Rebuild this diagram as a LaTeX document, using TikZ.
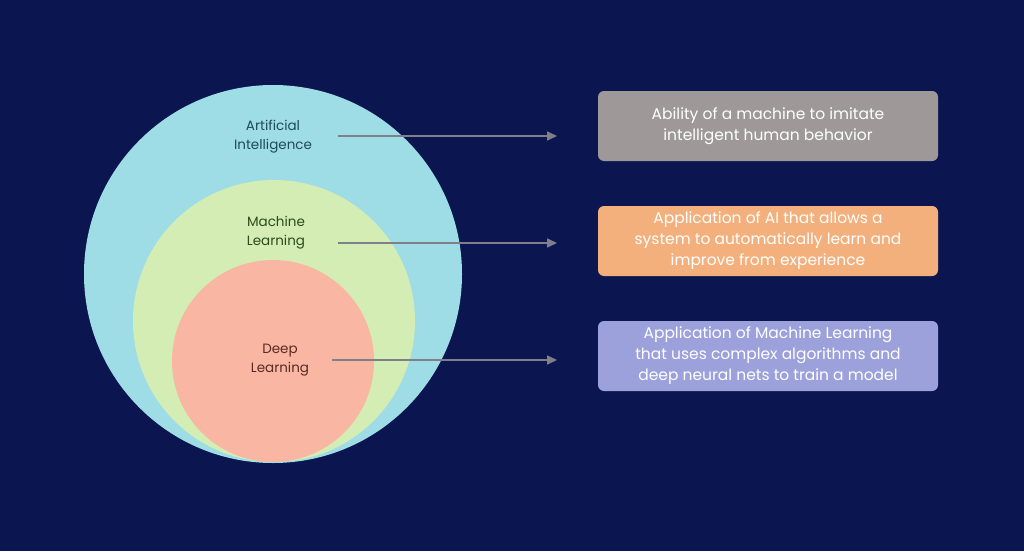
\documentclass[tikz,border=0pt]{standalone}
\usepackage{fontspec}
\setmainfont{Poppins}
\usetikzlibrary{arrows.meta}
\definecolor{navy}{HTML}{0B1650}
\definecolor{aiblue}{HTML}{9EDDE6}
\definecolor{mlgreen}{HTML}{D3EDB4}
\definecolor{dlred}{HTML}{F9B7A3}
\definecolor{boxgray}{HTML}{9E9898}
\definecolor{boxorange}{HTML}{F3B07D}
\definecolor{boxviolet}{HTML}{9CA1DB}
\definecolor{aitext}{HTML}{1E4A5A}
\definecolor{mltext}{HTML}{2E4A1E}
\definecolor{dltext}{HTML}{5A2A22}
\definecolor{linkgray}{HTML}{80808A}
\begin{document}
\begin{tikzpicture}[x=1pt,y=-1pt,
                    line width=1.5pt]
    \tikzstyle{ring}=[circle,inner sep=0pt]
    \tikzstyle{tag}=[align=center,font=\fontsize{13.5}{19}\selectfont]
    \tikzstyle{desc}=[rounded corners=6pt,minimum width=340pt,minimum height=70pt,
                      align=center,text=white,font=\fontsize{15.5}{21}\selectfont]
    \tikzstyle{link}=[draw=linkgray,-{Triangle[length=10pt,width=9pt]}]

    \fill[navy] (0,0) rectangle (1024,551);

    \node[ring,fill=aiblue,minimum size=378pt] (ai) at (273,274) {};
    \node[ring,fill=mlgreen,minimum size=282pt] (ml) at (274,321) {};
    \node[ring,fill=dlred,minimum size=202pt] (dl) at (273,361) {};

    \node[tag,text=aitext] (aitag) at (273,137) {Artificial\\Intelligence};
    \node[tag,text=mltext] (mltag) at (276,233) {Machine\\Learning};
    \node[tag,text=dltext] (dltag) at (280,360) {Deep\\Learning};

    \node[desc,fill=boxgray] (aibox) at (768,126) {Ability of a machine to imitate\\intelligent human behavior};
    \node[desc,fill=boxorange] (mlbox) at (768,241) {Application of AI that allows a\\system to automatically learn and\\improve from experience};
    \node[desc,fill=boxviolet] (dlbox) at (768,356) {Application of Machine Learning\\that uses complex algorithms and\\deep neural nets to train a model};

    \coordinate (aistart) at (338,136);
    \coordinate (mlstart) at (338,243);
    \coordinate (dlstart) at (332,360);
    \coordinate (aiend) at (557,136);
    \coordinate (mlend) at (557,243);
    \coordinate (dlend) at (557,360);
    \draw[link] (aistart) -- (aiend);
    \draw[link] (mlstart) -- (mlend);
    \draw[link] (dlstart) -- (dlend);
\end{tikzpicture}
\end{document}
